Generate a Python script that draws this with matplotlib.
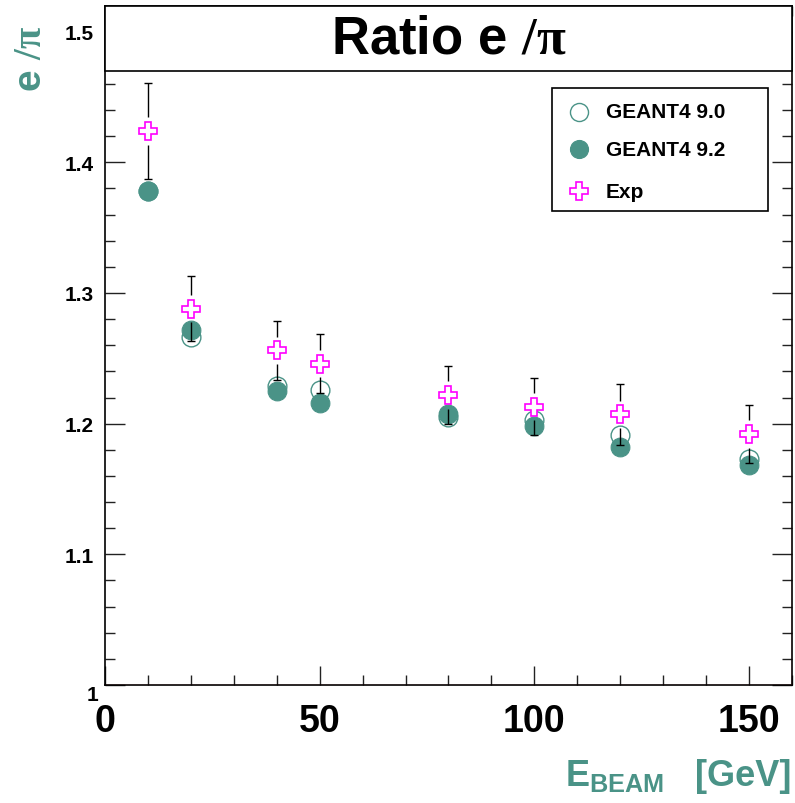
import numpy as np
import matplotlib
matplotlib.use("Agg")
import matplotlib.pyplot as plt
from matplotlib.patches import Rectangle
from matplotlib.ticker import MultipleLocator

plt.rcParams['font.family'] = ['Liberation Sans', 'DejaVu Sans']
plt.rcParams['font.weight'] = 'bold'
plt.rcParams['mathtext.fontset'] = 'custom'
plt.rcParams['mathtext.rm'] = 'Liberation Serif'
plt.rcParams['mathtext.it'] = 'Liberation Serif'
plt.rcParams['mathtext.bf'] = 'Liberation Sans:bold'

# Beam energies (GeV) and e/pi response ratios
energy = np.array([10, 20, 40, 50, 80, 100, 120, 150])
geant490 = np.array([1.378, 1.266, 1.229, 1.226, 1.205, 1.203, 1.191, 1.173])
geant492 = np.array([1.378, 1.272, 1.225, 1.216, 1.207, 1.198, 1.182, 1.168])
exp_ratio = np.array([1.424, 1.288, 1.256, 1.246, 1.222, 1.213, 1.207, 1.192])
exp_err = np.array([0.037, 0.025, 0.0225, 0.0225, 0.022, 0.022, 0.023, 0.022])

labels = ['GEANT4 9.0', 'GEANT4 9.2', 'Exp']

teal = '#4a9387'
magenta = '#ff00ff'

fig = plt.figure(figsize=(7.95, 8.04), dpi=100)
ax = fig.add_axes([0.1321, 0.1468, 0.8641, 0.8451])
ax.set_xlim(0, 160)
ax.set_ylim(1.0, 1.52)

# simulations
open_style = dict(marker='o', ms=13.5, mfc='white', mec=teal, mew=1.0, ls='none')
full_style = dict(marker='o', ms=13.5, mfc=teal, mec=teal, mew=0.8, ls='none')
exp_style = dict(marker='P', ms=13.5, mfc='white', mec=magenta, mew=1.2, ls='none')
ax.plot(energy, geant490, zorder=3, **open_style)
ax.plot(energy, geant492, zorder=4, **full_style)

# data error bars, interrupted around the marker
gap = 0.0105
ax.vlines(energy, exp_ratio + gap, exp_ratio + exp_err, color='black', lw=1.0, zorder=5)
ax.vlines(energy, exp_ratio - exp_err, exp_ratio - gap, color='black', lw=1.0, zorder=5)
ax.plot(energy, exp_ratio + exp_err, '_', color='black', ms=6, mew=1.0, ls='none', zorder=5)
ax.plot(energy, exp_ratio - exp_err, '_', color='black', ms=6, mew=1.0, ls='none', zorder=5)
ax.plot(energy, exp_ratio, zorder=6, **exp_style)

# axes style
ax.xaxis.set_major_locator(MultipleLocator(50))
ax.xaxis.set_minor_locator(MultipleLocator(10))
ax.yaxis.set_major_locator(MultipleLocator(0.1))
ax.yaxis.set_minor_locator(MultipleLocator(0.02))
ax.tick_params(which='both', direction='in', top=True, right=True, width=1.0, color='#222222')
ax.tick_params(axis='y', which='major', length=14.5, labelsize=15, pad=8)
ax.tick_params(axis='y', which='minor', length=7)
ax.tick_params(axis='x', which='major', length=13.5, labelsize=27, pad=13)
ax.tick_params(axis='x', which='minor', length=7)
ax.set_yticks([1.0, 1.1, 1.2, 1.3, 1.4, 1.5])
ax.set_yticklabels(['1', '1.1', '1.2', '1.3', '1.4', '1.5'])
ax.set_xticks([0, 50, 100, 150])
ax.set_xticklabels(['0', '50', '100', '150'])
lab1 = ax.get_yticklabels()[0]
lab1.set_va('top')
lab1.set_ha('center')
lab1.set_x(-0.0015)
for sp in ax.spines.values():
    sp.set_linewidth(1.2)

# red frame lines on bottom and right
ax.axhline(1.0, color='#e03030', lw=0.8, zorder=7)
ax.axvline(160, color='#e03030', lw=0.8, zorder=7)

# title box
ax.add_patch(Rectangle((0, 0.904), 1, 0.096, transform=ax.transAxes,
                       facecolor='white', edgecolor='black', lw=1.2, zorder=10,
                       clip_on=False))
ax.text(0.5, 0.952, r'Ratio e $/\pi$', transform=ax.transAxes, ha='center',
        va='center', fontsize=38, fontweight='bold', zorder=11)

# legend box
ax.add_patch(Rectangle((0.6507, 0.6976), 0.3144, 0.181, transform=ax.transAxes,
                       facecolor='white', edgecolor='black', lw=1.2, zorder=12))
rows = [0.8433, 0.7888, 0.727]
for yrow, lab, st in zip(rows, labels, [open_style, full_style, exp_style]):
    ax.plot([0.690], [yrow], transform=ax.transAxes, zorder=13, clip_on=False,
            **dict(st, ms=13))
    ax.text(0.729, yrow, lab, transform=ax.transAxes, ha='left', va='center',
            fontsize=15, fontweight='bold', zorder=13)

# axis titles
fig.text(0.039, 1 - 26 / 804, r'e $/\pi$', rotation=90, ha='center', va='top',
         fontsize=28, fontweight='bold', color=teal)
fig.text(0.996, 0.022, '[GeV]', ha='right', va='baseline', fontsize=26,
         fontweight='bold', color=teal)
fig.text(0.835, 0.022, r'$\mathbf{E_{BEAM}}$', ha='right', va='baseline',
         fontsize=26, color=teal)

fig.savefig('out.png', dpi=100)
